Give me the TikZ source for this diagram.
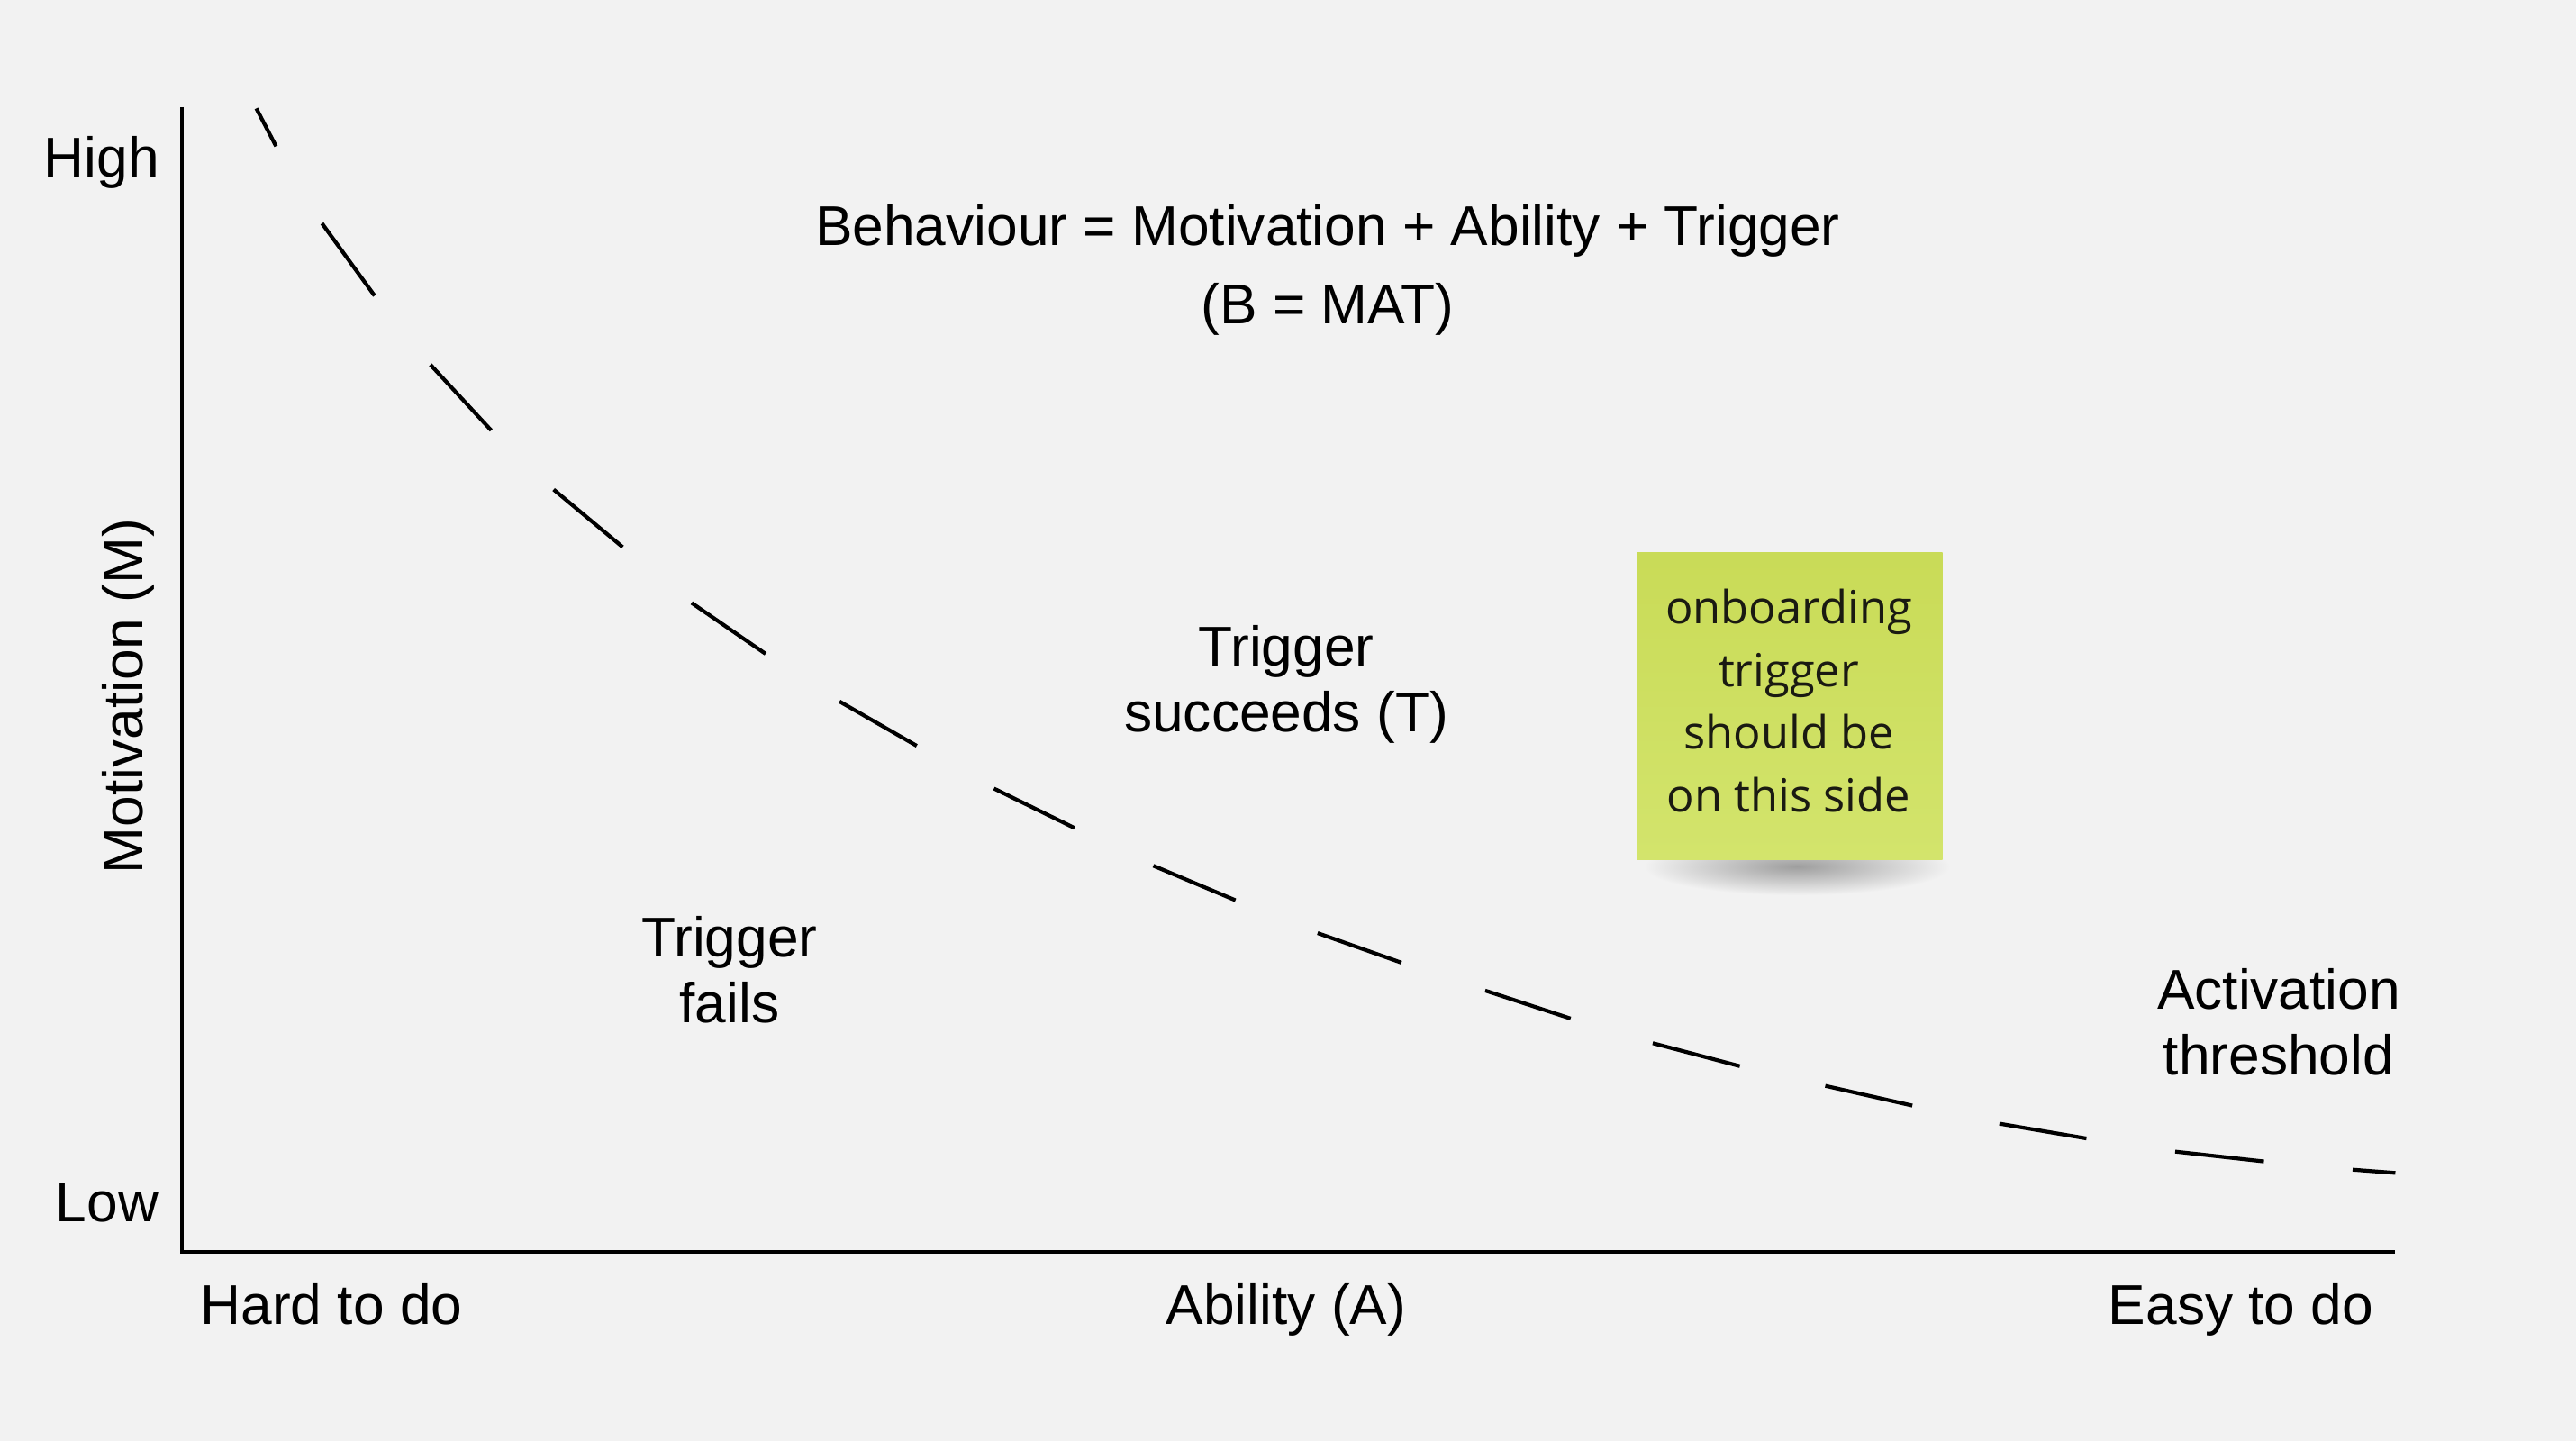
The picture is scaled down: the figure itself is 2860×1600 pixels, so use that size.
\documentclass[tikz,border=0pt]{standalone}
\usepackage{fontspec}
\setmainfont{Liberation Sans}
\newfontfamily\notefont{Open Sans}
\definecolor{bg}{HTML}{F2F2F2}
\definecolor{notetop}{HTML}{C9DB57}
\definecolor{notebot}{HTML}{D3E46C}
\definecolor{notetext}{HTML}{1A1A12}
\begin{document}
\begin{tikzpicture}[x=0.01cm, y=-0.01cm,
  axisline/.style={line width=1.2pt, black},
  dashseg/.style={line width=1.2pt, black, line cap=butt},
  lbl/.style={font=\fontsize{17.7}{20.8}\selectfont, text=black, inner sep=0pt, anchor=base},
  notebox/.style={rectangle, minimum width=3.39cm, minimum height=3.41cm, inner sep=0pt,
    top color=notetop, bottom color=notebot, draw=none},
  notetxt/.style={align=center, inner sep=0pt,
    font=\notefont\fontsize{14.4}{19.9}\selectfont, text=notetext}
]
\fill[bg] (0,0) rectangle (2860,1600);
\useasboundingbox (0,0) rectangle (2860,1600);

% axes
\coordinate (ytop) at (202,119);
\coordinate (orig) at (202,1390);
\coordinate (xend) at (2659,1390);
\draw[axisline] (ytop) -- (orig) -- (xend);

% activation threshold curve (dashes)
\begin{scope}[scale=1.824]
\foreach \xa/\ya/\xb/\yb in {156/66/168/89, 196/136/228/180, 262/222/299/262,
  337/298/379/333, 421/367/466/398, 511/427/558/454, 605/480/654/504,
  702/527/752/548, 802/568/853/586, 904/603/956/620, 1006/635/1059/649,
  1111/661/1164/673, 1217/684/1270/693, 1324/701/1378/707, 1432/712/1458/714}
  \draw[dashseg] (\xa,\ya) -- (\xb,\yb);
\end{scope}

% axis labels
\node[lbl] (high) at (113,197) {High};
\node[lbl] (low) at (119,1356) {Low};
\node[font=\fontsize{17.7}{20.8}\selectfont, rotate=90, inner sep=0pt] (mot) at (142,773) {Motivation (M)};
\node[lbl] (hard) at (368,1470) {Hard to do};
\node[lbl] (abil) at (1428,1470) {Ability (A)};
\node[lbl] (easy) at (2488,1470) {Easy to do};

% title
\node[lbl] (title1) at (1474,272) {Behaviour = Motivation + Ability + Trigger};
\node[lbl] (title2) at (1474,360) {(B = MAT)};

% region labels
\node[lbl] (succ1) at (1428,739) {Trigger};
\node[lbl] (succ2) at (1428,812) {succeeds (T)};
\node[lbl] (fail1) at (810,1062) {Trigger};
\node[lbl] (fail2) at (810,1135) {fails};
\node[lbl] (act1) at (2530,1120) {Activation};
\node[lbl] (act2) at (2530,1193) {threshold};

% sticky note with shadow
\shade[inner color=black!38, outer color=bg] (1995,962) ellipse (170 and 32);
\node[notebox] (note) at (1987,784) {};
\node[notetxt] (notelabel) at (1986,778) {onboarding\\trigger\\should be\\on this side};
\end{tikzpicture}
\end{document}
